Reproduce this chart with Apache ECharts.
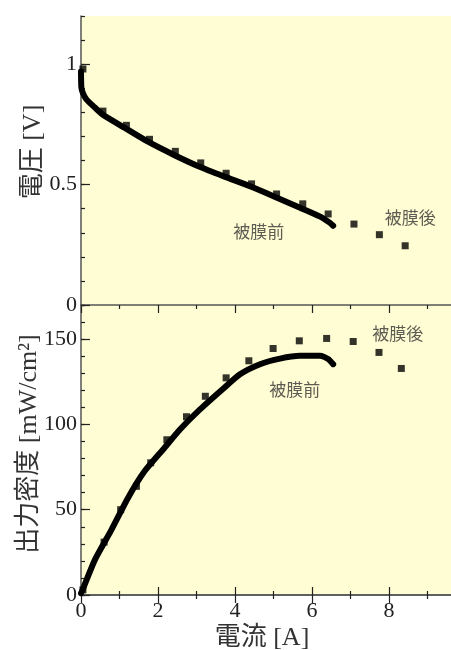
<!DOCTYPE html>
<html>
<head>
<meta charset="utf-8">
<script src="https://cdn.jsdelivr.net/npm/echarts@6/dist/echarts.min.js"></script>
<style>
html,body{margin:0;padding:0;background:#fff;}
#chart{width:451px;height:650px;}
</style>
</head>
<body>
<div id="chart"></div>
<script>
var serif='"Liberation Serif","Noto Sans CJK JP",serif';
var cjk='"Noto Sans CJK JP",sans-serif';

// 電圧 [V] vs 電流 [A]
var voltBefore=[[0,0.97],[0.01,0.903],[0.05,0.88],[0.14,0.854],[0.36,0.82],[0.57,0.79],[1.13,0.736],[1.74,0.678],
  [2.43,0.622],[3.08,0.574],[3.73,0.533],[4.39,0.493],[5.0,0.452],[5.69,0.404],[6.2,0.368],[6.45,0.343],[6.55,0.329]];
var voltAfter=[[0.05,0.98],[0.57,0.805],[1.18,0.746],[1.78,0.688],[2.45,0.638],[3.11,0.59],[3.77,0.547],[4.43,0.503],
  [5.08,0.461],[5.76,0.42],[6.42,0.378],[7.09,0.336],[7.75,0.292],[8.42,0.246]];
// 出力密度 [mW/cm2] vs 電流 [A]
var powerBefore=[[0,1],[0.05,3.5],[0.36,20.6],[0.79,38.2],[1.22,56.9],[1.65,72.5],[2.17,86.3],[2.57,97],[3.09,108.8],
  [3.67,120.5],[4.13,129.4],[4.65,135.3],[5.17,138.6],[5.69,140.2],[6.21,140.2],[6.42,138.4],[6.55,135.3]];
var powerAfter=[[0.05,3],[0.6,31],[1.03,50],[1.44,63.7],[1.81,77.5],[2.23,91],[2.74,104.5],[3.23,116.5],[3.77,127.3],
  [4.36,137.3],[4.99,144.5],[5.67,149],[6.38,150.4],[7.07,148.6],[7.74,142.2],[8.32,132.8]];
// labels: [x, y, text]
var voltLabels=[[4.62,0.304,'被膜前'],[8.55,0.3625,'被膜後']];
var powerLabels=[[5.55,120.6,'被膜前'],[8.23,153.5,'被膜後']];

var chart=echarts.init(document.getElementById('chart'));

function xAx(grid,pos,labels){
  return {
    type:'value',gridIndex:grid,position:pos,min:0,max:10,interval:2,
    axisLine:{show:true,lineStyle:{color:'#555',width:1.5}},
    axisTick:{show:true,inside:true,length:8,lineStyle:{color:'#222',width:1.2}},
    minorTick:{show:true,splitNumber:2,length:4,lineStyle:{color:'#222',width:1.2}},
    splitLine:{show:false},
    axisLabel:{show:labels,showMaxLabel:false,margin:5,color:'#222',fontFamily:serif,fontSize:22},
    name:labels?'電流 [A]':'',nameLocation:'middle',nameGap:30,
    nameTextStyle:{color:'#333',fontFamily:serif,fontSize:26,padding:[0,23,0,0]}
  };
}
function yMajor(grid,max,step,name,gap,pad){
  return {
    type:'value',gridIndex:grid,position:'left',min:0,max:max,interval:step,
    axisLine:{show:true,lineStyle:{color:'#555',width:1.5}},
    axisTick:{show:true,inside:true,length:9,lineStyle:{color:'#222',width:1.2}},
    splitLine:{show:false},
    axisLabel:{showMaxLabel:false,margin:4,color:'#222',fontFamily:serif,fontSize:22},
    name:name,nameLocation:'middle',nameGap:gap,nameMoveOverlap:false,
    nameTextStyle:{color:'#333',fontFamily:serif,fontSize:26,padding:[0,0,0,pad]}
  };
}
function yMinor(grid,max,step){
  return {
    type:'value',gridIndex:grid,position:'left',min:0,max:max,interval:step,
    axisLine:{show:false},
    axisTick:{show:true,inside:true,length:4,lineStyle:{color:'#222',width:1.2}},
    splitLine:{show:false},axisLabel:{show:false}
  };
}
function labelSeries(xi,yi,list){
  return {
    type:'scatter',xAxisIndex:xi,yAxisIndex:yi,symbolSize:0,silent:true,
    data:list.map(function(d){return {value:[d[0],d[1]],name:d[2]};}),
    label:{show:true,position:'inside',formatter:'{b}',color:'#333',fontFamily:cjk,fontSize:17}
  };
}

var option={
  backgroundColor:'#fff',
  animation:false,
  grid:[
    {left:81,width:385,top:16,height:289,outerBoundsMode:'none',containLabel:false,
      show:true,backgroundColor:'#fffdd3',borderWidth:0},
    {left:81,width:385,top:305,height:290,outerBoundsMode:'none',containLabel:false,
      show:true,backgroundColor:'#fffdd3',borderWidth:0}
  ],
  xAxis:[xAx(0,'top',false),xAx(1,'top',false),xAx(1,'bottom',true)],
  yAxis:[
    yMajor(0,1.2,0.5,'電圧 [V]',35,17),yMinor(0,1.2,0.1),
    yMajor(1,170,50,'出力密度 [mW/cm²]',39,12),yMinor(1,170,10)
  ],
  series:[
    {type:'line',xAxisIndex:0,yAxisIndex:0,data:voltBefore,smooth:0.2,showSymbol:false,
      lineStyle:{color:'#000',width:6,cap:'round',join:'round'}},
    {type:'scatter',xAxisIndex:0,yAxisIndex:0,data:voltAfter,symbol:'rect',symbolSize:7,itemStyle:{color:'#000'}},
    {type:'line',xAxisIndex:2,yAxisIndex:2,data:powerBefore,smooth:0.2,showSymbol:false,
      lineStyle:{color:'#000',width:6,cap:'round',join:'round'}},
    {type:'scatter',xAxisIndex:2,yAxisIndex:2,data:powerAfter,symbol:'rect',symbolSize:7,itemStyle:{color:'#000'}},
    labelSeries(0,0,voltLabels),
    labelSeries(2,2,powerLabels)
  ]
};
chart.setOption(option);
</script>
</body>
</html>
